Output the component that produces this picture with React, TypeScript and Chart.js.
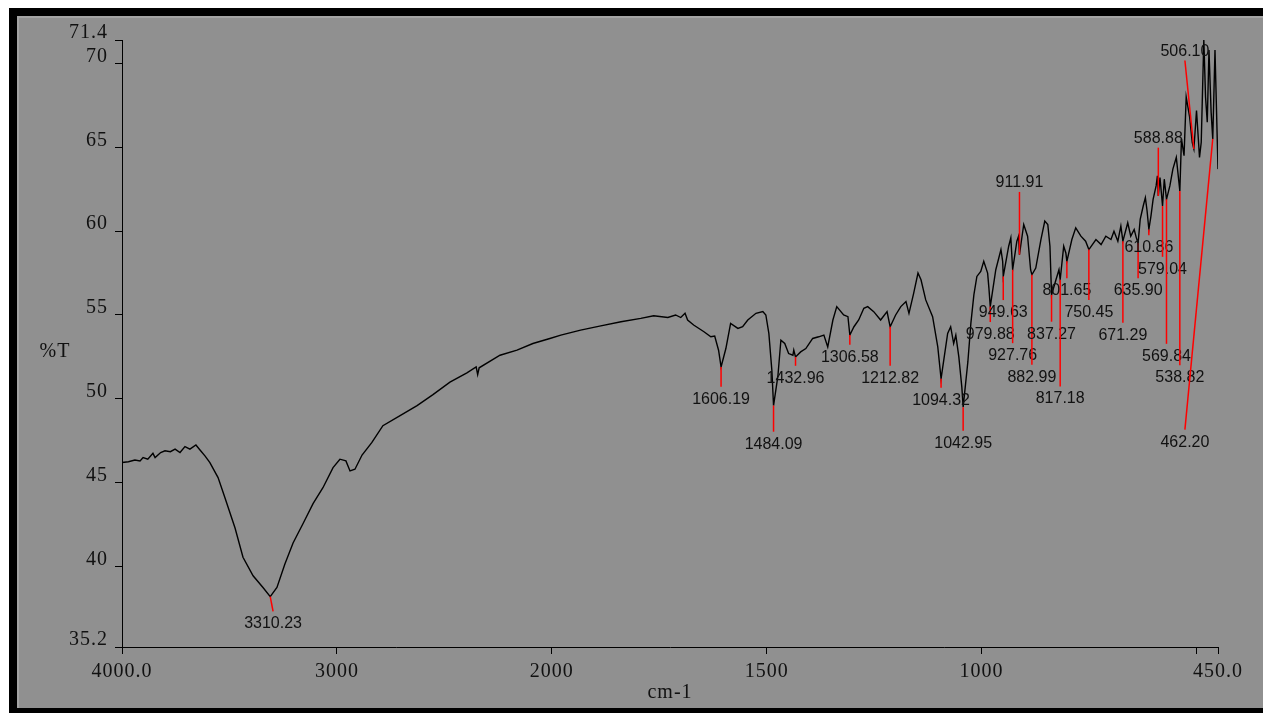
import React, { useEffect, useRef } from 'react';
import { Chart, registerables } from 'chart.js';

Chart.register(...registerables);

// [wavenumber (cm-1), %T]
const spectrum: [number, number][] = [
  [4000, 46.2], [3970, 46.25], [3940, 46.35], [3916, 46.3], [3902, 46.5], [3880, 46.4], [3856, 46.75], [3846, 46.5],
  [3820, 46.8], [3800, 46.9], [3775, 46.85], [3753, 47.0], [3730, 46.8], [3707, 47.15], [3684, 47.0], [3656, 47.25],
  [3637, 46.95], [3614, 46.6], [3591, 46.2], [3553, 45.3], [3521, 44.1], [3474, 42.3], [3437, 40.55], [3390, 39.45],
  [3344, 38.75], [3310.23, 38.2], [3279, 38.75], [3242, 40.15], [3204, 41.4], [3158, 42.55], [3111, 43.75], [3065, 44.7],
  [3018, 45.9], [2986, 46.4], [2958, 46.3], [2939, 45.7], [2916, 45.8], [2883, 46.65], [2837, 47.4], [2786, 48.4],
  [2706, 49.0], [2627, 49.6], [2553, 50.25], [2474, 51.0], [2395, 51.55], [2352, 51.9], [2345, 51.45], [2338, 51.85],
  [2241, 52.6], [2162, 52.9], [2088, 53.3], [2009, 53.6],
  [1979, 53.8], [1933, 54.1], [1886, 54.35], [1839, 54.6], [1793, 54.8], [1763, 54.95], [1730, 54.85], [1712, 55.0],
  [1700, 54.85], [1690, 55.1], [1684, 54.7], [1670, 54.4], [1646, 54.0], [1630, 53.7], [1621, 53.75], [1612, 52.9],
  [1606.19, 51.9], [1595, 53.0], [1584, 54.5], [1567, 54.2], [1556, 54.3], [1544, 54.7], [1525, 55.1], [1509, 55.2],
  [1502, 55.0], [1495, 53.9], [1488, 51.7], [1484.09, 49.6], [1474, 51.35], [1467, 53.5], [1458, 53.3], [1449, 52.7],
  [1439, 52.6], [1437, 52.9], [1432.96, 52.5], [1421, 52.8], [1409, 53.0], [1393, 53.6], [1379, 53.7], [1367, 53.8],
  [1358, 53.1], [1346, 54.7], [1337, 55.5], [1321, 55.0], [1311, 54.9], [1306.58, 53.8], [1297, 54.3], [1286, 54.7],
  [1274, 55.4], [1265, 55.5], [1251, 55.2], [1235, 54.7], [1220, 55.2], [1212.82, 54.3], [1200, 55.0], [1188, 55.5],
  [1176, 55.8], [1169, 55.1], [1158, 56.3], [1148, 57.5], [1141, 57.1], [1130, 55.9], [1114, 54.9], [1102, 53.1],
  [1094.32, 51.2], [1079, 53.9], [1072, 54.3], [1065, 53.3], [1060, 53.8], [1053, 52.5], [1046, 50.7], [1042.95, 49.5],
  [1032, 52.2], [1025, 54.5], [1018, 56.2], [1011, 57.3], [1002, 57.6], [995, 58.2], [986, 57.5], [983, 56.6],
  [979.88, 55.5], [967, 57.7], [955, 58.9], [951, 58.2], [949.63, 57.3], [937, 59.1], [932, 59.6], [927.76, 57.7],
  [918, 59.4], [914, 59.7], [911.91, 58.6], [902, 60.4], [893, 59.7], [886, 57.7], [882.99, 57.4], [874, 57.8],
  [862, 59.5], [853, 60.6], [846, 60.4], [841, 59.1], [837.27, 56.2], [827, 57.1], [820, 57.7], [817.18, 57.1],
  [809, 59.1], [804, 58.7], [801.65, 58.2], [790, 59.5], [781, 60.2], [769, 59.7], [758, 59.4], [750.45, 58.9],
  [734, 59.5], [722, 59.2], [711, 59.7], [699, 59.5], [692, 60.0], [683, 59.4], [676, 60.3], [671.29, 59.4],
  [660, 60.5], [653, 59.7], [645, 60.1], [640, 59.6], [635.9, 59.3], [631, 60.7], [624, 61.5], [619, 62.0],
  [615, 61.2], [610.86, 60.1], [606, 60.9], [601, 61.9], [594, 62.7], [591, 63.3], [588.88, 62.1], [585, 63.2],
  [579.04, 61.5], [575, 63.1], [569.84, 61.9], [562, 62.7], [555, 63.7], [547, 64.4], [538.82, 62.4], [535, 65.5],
  [529, 64.5], [524, 68.0], [516, 66.8], [510, 65.3], [506.1, 64.9], [500, 67.2], [493, 64.4], [489, 65.3],
  [483, 71.4], [479, 68.0], [475, 66.5], [471, 70.8], [466, 67.1], [462.2, 65.5], [457, 70.8], [450, 63.7],
];

const xTickValues = [4000, 3000, 2000, 1500, 1000, 500, 450];
const xTickLabels = ['4000.0', '3000', '2000', '1500', '1000', '', '450.0'];
const yTickValues = [35.2, 40, 45, 50, 55, 60, 65, 70, 71.4];
const yTickLabels = ['35.2', '40', '45', '50', '55', '60', '65', '70', '71.4'];

// peak annotations: label text, %T where the red leader ends, wavenumber of label (null = same as peak)
const peakLabels = [
  '3310.23', '1606.19', '1484.09', '1432.96', '1306.58', '1212.82', '1094.32', '1042.95',
  '979.88', '949.63', '927.76', '911.91', '882.99', '837.27', '817.18', '801.65',
  '750.45', '671.29', '635.90', '610.86', '588.88', '579.04', '569.84', '538.82', '506.10', '462.20',
];
const peakLabelT = [
  37.32, 50.72, 48.04, 51.97, 53.22, 51.97, 50.66, 48.1,
  54.58, 55.89, 53.32, 62.34, 52.03, 54.6, 50.73, 57.19,
  55.89, 54.54, 57.19, 59.76, 64.98, 58.47, 53.28, 52.0, 70.18, 48.16,
];
const peakLabelW: (number | null)[] = [
  3297, null, null, null, null, null, null, null,
  null, null, null, null, null, null, null, null,
  null, null, null, null, null, null, null, null, 527, 527,
];

const toPos = (w: number) => (w >= 2000 ? (4000 - w) / 2 : 1000 + (2000 - w));

const SERIF = "'Liberation Serif', 'Times New Roman', serif";
const SANS = "'Liberation Sans', Arial, sans-serif";
const TEXT = '#111111';

const spacingPlugin = {
  id: 'spacing',
  beforeDraw(chart: any) {
    (chart.ctx as any).letterSpacing = '1px';
  },
};

const peakPlugin = {
  id: 'peaks',
  afterDatasetsDraw(chart: any) {
    const { ctx, scales } = chart;
    const x = scales.x;
    const y = scales.y;
    ctx.save();
    (ctx as any).letterSpacing = '0px';
    ctx.font = `16px ${SANS}`;
    ctx.textAlign = 'center';
    ctx.textBaseline = 'middle';
    peakLabels.forEach((lab, i) => {
      const w = parseFloat(lab);
      const pt = spectrum.find((p) => p[0] === w);
      const t = pt ? pt[1] : peakLabelT[i];
      const lw = peakLabelW[i] ?? w;
      const x0 = x.getPixelForValue(toPos(w));
      const y0 = y.getPixelForValue(t);
      const x1 = x.getPixelForValue(toPos(lw));
      const y1 = y.getPixelForValue(peakLabelT[i]);
      ctx.strokeStyle = '#ff0000';
      ctx.lineWidth = 1.5;
      ctx.beginPath();
      ctx.moveTo(x0, y0);
      ctx.lineTo(x1, y1);
      ctx.stroke();
      ctx.fillStyle = TEXT;
      const above = peakLabelT[i] > t;
      ctx.fillText(lab, x1, y1 + (above ? -9 : 12.5));
    });
    ctx.restore();
  },
  afterDraw(chart: any) {
    const { ctx, chartArea } = chart;
    ctx.save();
    (ctx as any).letterSpacing = '1px';
    ctx.font = `20px ${SERIF}`;
    ctx.fillStyle = TEXT;
    ctx.textAlign = 'center';
    ctx.textBaseline = 'middle';
    ctx.fillText('%T', chartArea.left - 67, (chartArea.top + chartArea.bottom) / 2 + 8);
    ctx.restore();
  },
};

export default function App() {
  const ref = useRef<HTMLCanvasElement | null>(null);

  useEffect(() => {
    if (!ref.current) return;
    const chart = new Chart(ref.current, {
      type: 'line',
      data: {
        datasets: [
          {
            data: spectrum.map(([w, t]) => ({ x: toPos(w), y: t })),
            borderColor: '#000000',
            borderWidth: 1.4,
            pointRadius: 0,
            tension: 0,
            fill: false,
          },
        ],
      },
      options: {
        responsive: false,
        animation: false,
        devicePixelRatio: 1,
        layout: { padding: { top: 40, right: 45, left: 0, bottom: 0 } },
        plugins: { legend: { display: false }, tooltip: { enabled: false } },
        scales: {
          x: {
            type: 'linear',
            min: 0,
            max: toPos(450),
            afterBuildTicks: (s: any) => {
              s.ticks = xTickValues.map((w) => ({ value: toPos(w) }));
            },
            afterFit: (s: any) => {
              s.height = 66;
            },
            ticks: {
              autoSkip: false,
              maxRotation: 0,
              minRotation: 0,
              color: TEXT,
              font: { family: SERIF, size: 20 },
              padding: 6,
              callback: (_v: any, i: number) => xTickLabels[i],
            },
            grid: {
              display: true,
              drawOnChartArea: false,
              drawTicks: true,
              tickLength: 7,
              color: '#000000',
              tickColor: '#000000',
              tickWidth: 1,
            },
            border: { display: true, color: '#000000', width: 1 },
            title: {
              display: true,
              text: 'cm-1',
              color: TEXT,
              font: { family: SERIF, size: 20 },
              padding: { top: 0, bottom: 8 },
            },
          },
          y: {
            type: 'linear',
            min: 35.2,
            max: 71.4,
            afterBuildTicks: (s: any) => {
              s.ticks = yTickValues.map((v) => ({ value: v }));
            },
            afterFit: (s: any) => {
              s.width = 122;
            },
            ticks: {
              autoSkip: false,
              color: TEXT,
              font: { family: SERIF, size: 20 },
              padding: 7,
              labelOffset: -7,
              callback: (_v: any, i: number) => yTickLabels[i],
            },
            grid: {
              display: true,
              drawOnChartArea: false,
              drawTicks: true,
              tickLength: 7,
              color: '#000000',
              tickColor: '#000000',
              tickWidth: 1,
            },
            border: { display: true, color: '#000000', width: 1 },
          },
        },
      },
      plugins: [spacingPlugin, peakPlugin],
    } as any);
    return () => chart.destroy();
  }, []);

  return (
    <>
      <div
        style={{
          position: 'fixed',
          left: 9,
          top: 8,
          width: 1300,
          height: 692,
          border: '8px solid #000',
          background: '#909090',
          boxShadow: 'inset 2px 2px 0 #a4a4a4',
        }}
      />
      <canvas
        ref={ref}
        width={1263}
        height={713}
        style={{ position: 'fixed', left: 0, top: 0, width: 1263, height: 713 }}
      />
    </>
  );
}
